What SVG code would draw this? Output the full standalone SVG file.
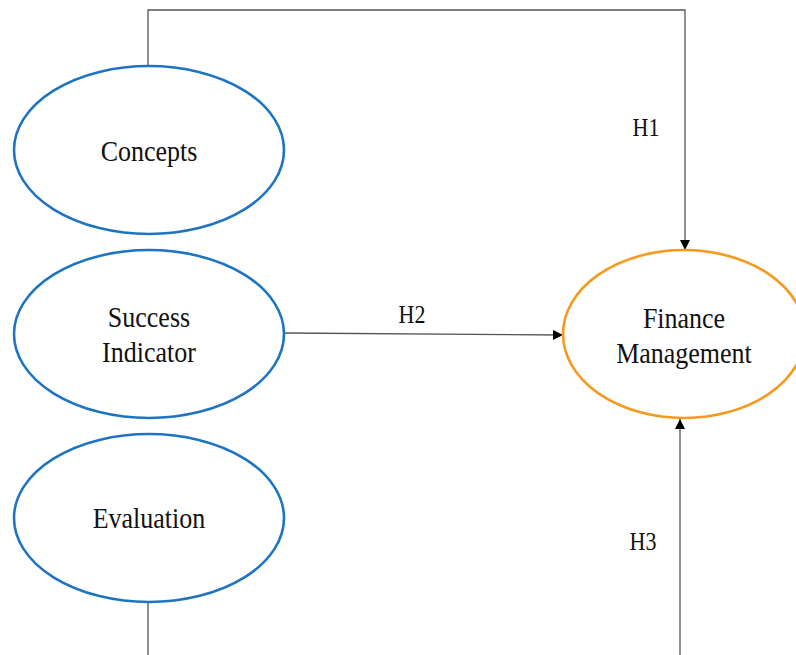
<svg xmlns="http://www.w3.org/2000/svg" width="796" height="655" viewBox="0 0 796 655">
<defs>
<style>
.blue{fill:#fff;stroke:#1f74c2;stroke-width:2.6}
.orange{fill:#fff;stroke:#f7991c;stroke-width:2.6}
text{font-family:'Liberation Serif','Times New Roman',Times,serif;fill:#111;text-anchor:middle}
.lbl{font-size:26px}
.h{font-size:22px}
.conn{fill:none;stroke:#555;stroke-width:1.3}
</style>
<marker id="arr" viewBox="0 0 10 10" refX="10" refY="5" markerWidth="10" markerHeight="10" markerUnits="userSpaceOnUse" orient="auto">
<path d="M0,0 L10,5 L0,10 Z" fill="#000"/>
</marker>
</defs>
<rect width="796" height="655" fill="#fff"/>
<g id="connectors">
<polyline class="conn" points="148,66 148,10 685,10 685,250" marker-end="url(#arr)"/>
<line class="conn" x1="285" y1="333" x2="563" y2="335" marker-end="url(#arr)"/>
<line class="conn" x1="680" y1="655" x2="680" y2="419" marker-end="url(#arr)"/>
<line class="conn" x1="148" y1="602" x2="148" y2="655"/>
<text class="h" font-family="Liberation Serif, serif" transform="translate(646,136) scale(1,1.15)">H1</text>
<text class="h" font-family="Liberation Serif, serif" transform="translate(412,323) scale(1,1.15)">H2</text>
<text class="h" font-family="Liberation Serif, serif" transform="translate(643,550) scale(1,1.15)">H3</text>
</g>
<g id="concepts">
<ellipse class="blue" cx="149" cy="150" rx="135" ry="84"/>
<text class="lbl" transform="translate(149,161) scale(1,1.15)">Concepts</text>
</g>
<g id="success">
<ellipse class="blue" cx="149" cy="334" rx="135" ry="84"/>
<text class="lbl" transform="translate(149,327) scale(1,1.15)">Success</text>
<text class="lbl" transform="translate(149,362) scale(1,1.15)">Indicator</text>
</g>
<g id="evaluation">
<ellipse class="blue" cx="149" cy="518" rx="135" ry="84"/>
<text class="lbl" transform="translate(149,528) scale(1,1.15)">Evaluation</text>
</g>
<g id="finance">
<ellipse class="orange" cx="684" cy="334" rx="121" ry="84"/>
<text class="lbl" transform="translate(684,328) scale(1,1.15)">Finance</text>
<text class="lbl" transform="translate(684,363) scale(1,1.15)">Management</text>
</g>
</svg>
